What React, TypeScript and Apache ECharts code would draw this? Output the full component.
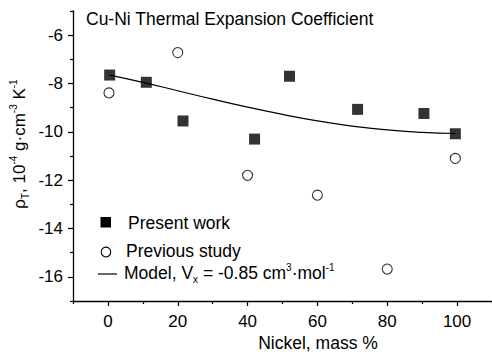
import React, { useEffect, useRef } from "react";
import * as echarts from "echarts";

const presentX = [0.5, 11, 21.5, 42, 52, 71.5, 90.5, 99.5];
const presentY = [-7.65, -7.95, -9.55, -10.3, -7.7, -9.07, -9.24, -10.08];
const previousX = [0.3, 20, 40, 60, 80, 99.5];
const previousY = [-8.39, -6.72, -11.8, -12.62, -15.68, -11.1];
const modelX = [0.5, 10, 20, 30, 40, 50, 60, 70, 80, 90, 99.5];
const modelY = [-7.65, -7.95, -8.3, -8.65, -8.98, -9.28, -9.55, -9.76, -9.92, -10.02, -10.07];
const xMajor = [0, 20, 40, 60, 80, 100];
const xMinor = [-10, 10, 30, 50, 70, 90, 110];
const yMajor = [-16, -14, -12, -10, -8, -6];
const yMinor = [-17, -15, -13, -11, -9, -7, -5];

const FONT = "'Liberation Sans', Arial, sans-serif";

export default function App() {
  const ref = useRef<HTMLDivElement>(null);
  useEffect(() => {
    const chart = echarts.init(ref.current!, null, { renderer: "svg" });
    const axisLine = { show: true, onZero: false, lineStyle: { color: "#000", width: 1.3 } };
    const hiddenLine = { show: false, onZero: false };
    const baseX = {
      type: "value",
      min: -10,
      max: 110,
      position: "bottom",
      splitLine: { show: false },
    };
    const baseY = {
      type: "value",
      min: -17,
      max: -5,
      position: "left",
      splitLine: { show: false },
    };
    chart.setOption({
      animation: false,
      backgroundColor: "#fff",
      grid: { left: 73, top: 11, width: 420, height: 290, containLabel: false },
      xAxis: [
        {
          ...baseX,
          axisLine,
          axisTick: { show: true, inside: false, length: 5, customValues: xMajor, lineStyle: { color: "#000", width: 1.2 } },
          axisLabel: { customValues: xMajor, color: "#000", fontSize: 17, fontFamily: FONT, margin: 12 },
        },
        {
          ...baseX,
          axisLine: hiddenLine,
          axisTick: { show: true, inside: false, length: 3, customValues: xMinor, lineStyle: { color: "#000", width: 1.2 } },
          axisLabel: { show: false },
        },
      ],
      yAxis: [
        {
          ...baseY,
          axisLine,
          axisTick: { show: true, inside: false, length: 5, customValues: yMajor, lineStyle: { color: "#000", width: 1.2 } },
          axisLabel: { customValues: yMajor, color: "#000", fontSize: 17, fontFamily: FONT, margin: 10 },
        },
        {
          ...baseY,
          axisLine: hiddenLine,
          axisTick: { show: true, inside: false, length: 3, customValues: yMinor, lineStyle: { color: "#000", width: 1.2 } },
          axisLabel: { show: false },
        },
      ],
      series: [
        {
          type: "line",
          name: "Model",
          data: modelX.map((x, i) => [x, modelY[i]]),
          smooth: true,
          showSymbol: false,
          symbol: "none",
          lineStyle: { color: "#000", width: 1.2 },
          z: 1,
        },
        {
          type: "scatter",
          name: "Present work",
          data: presentX.map((x, i) => [x, presentY[i]]),
          symbol: "rect",
          symbolSize: 11,
          itemStyle: { color: "#000" },
          z: 3,
        },
        {
          type: "scatter",
          name: "Previous study",
          data: previousX.map((x, i) => [x, previousY[i]]),
          symbol: "circle",
          symbolSize: 10,
          itemStyle: { color: "#fff", borderColor: "#000", borderWidth: 1.1 },
          z: 3,
        },
      ],
      graphic: [
        {
          type: "text",
          left: 86,
          top: 10,
          style: { text: "Cu-Ni Thermal Expansion Coefficient", fontSize: 17.5, fontFamily: FONT, fill: "#000" },
        },
        {
          type: "text",
          x: 318,
          y: 343,
          style: { text: "Nickel, mass %", fontSize: 17.5, fontFamily: FONT, fill: "#000", align: "center", verticalAlign: "middle" },
        },
        {
          type: "text",
          x: 19,
          y: 144,
          rotation: Math.PI / 2,
          style: {
            text: "{n|ρ}{sub|T}{n|, 10}{sup|-4}{n| g·cm}{sup|-3}{n| K}{sup|-1}",
            align: "center",
            verticalAlign: "middle",
            fill: "#000",
            rich: {
              n: { fontSize: 17, fontFamily: FONT, lineHeight: 22, fill: "#000" },
              sup: { fontSize: 10, fontFamily: FONT, lineHeight: 22, verticalAlign: "top", fill: "#000" },
              sub: { fontSize: 10, fontFamily: FONT, lineHeight: 22, verticalAlign: "bottom", fill: "#000" },
            },
          },
        },
        { type: "rect", shape: { x: 100.5, y: 217, width: 10.5, height: 10.5 }, style: { fill: "#000" } },
        {
          type: "text",
          x: 128,
          y: 222.5,
          style: { text: "Present work", fontSize: 17.5, fontFamily: FONT, fill: "#000", verticalAlign: "middle" },
        },
        { type: "circle", shape: { cx: 106, cy: 252, r: 4.8 }, style: { fill: "#fff", stroke: "#000", lineWidth: 1.1 } },
        {
          type: "text",
          x: 126,
          y: 251,
          style: { text: "Previous study", fontSize: 17.5, fontFamily: FONT, fill: "#000", verticalAlign: "middle" },
        },
        { type: "line", shape: { x1: 98, y1: 274, x2: 117, y2: 274 }, style: { stroke: "#000", lineWidth: 1.2 } },
        {
          type: "text",
          x: 124,
          y: 273,
          style: {
            text: "{n|Model, V}{sub|x}{n| = -0.85 cm}{sup|3}{n|·mol}{sup|-1}",
            verticalAlign: "middle",
            fill: "#000",
            rich: {
              n: { fontSize: 17.5, fontFamily: FONT, lineHeight: 22, fill: "#000" },
              sup: { fontSize: 10, fontFamily: FONT, lineHeight: 22, verticalAlign: "top", fill: "#000" },
              sub: { fontSize: 10, fontFamily: FONT, lineHeight: 22, verticalAlign: "bottom", fill: "#000" },
            },
          },
        },
      ],
    });
    return () => chart.dispose();
  }, []);
  return <div ref={ref} style={{ position: "fixed", left: 0, top: 0, width: 492, height: 354 }} />;
}
